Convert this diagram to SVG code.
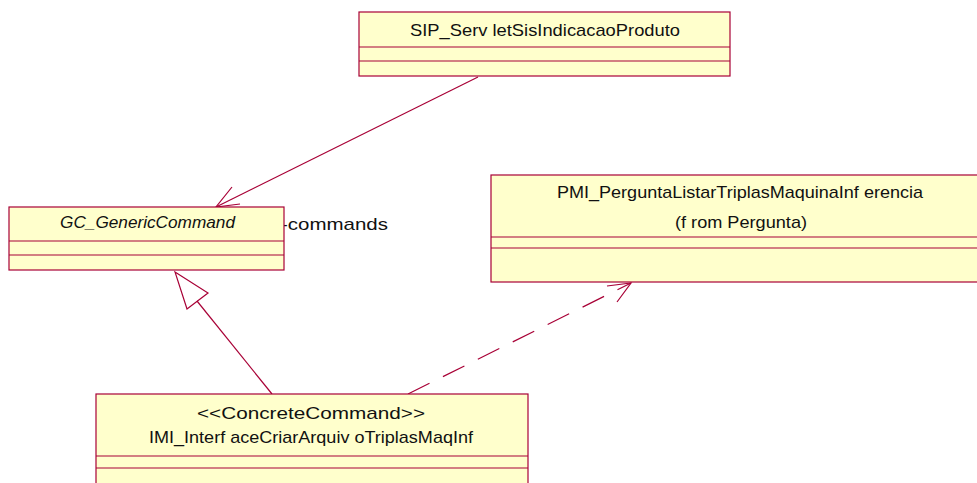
<svg xmlns="http://www.w3.org/2000/svg" width="977" height="483" viewBox="0 0 977 483">
<style>
.box{fill:#FFFFCC;stroke:#A80036;stroke-width:1.2}
.ln{stroke:#A80036;stroke-width:1.2;fill:none}
.t{font-family:"Liberation Sans",Arial,sans-serif;font-size:17px;fill:#111}
</style>
<rect width="977" height="483" fill="#fff"/>
<g id="connectors">
<line class="ln" x1="478" y1="77" x2="216" y2="207"/>
<polyline class="ln" points="232,187 216,207 240,204"/>
<line class="ln" x1="272" y1="394" x2="197" y2="301"/>
<polygon class="ln" fill="#fff" points="175,272 208,293 187,309"/>
<line class="ln" x1="408" y1="394" x2="631" y2="283" stroke-dasharray="24,15"/>
<polyline class="ln" points="607,286 631,283 617,302"/>
<text class="t" x="281" y="230" textLength="107" lengthAdjust="spacingAndGlyphs">-commands</text>
</g>
<g id="SIP">
<rect class="box" x="359" y="12" width="371" height="64"/>
<line class="ln" x1="359" y1="47" x2="730" y2="47"/>
<line class="ln" x1="359" y1="61" x2="730" y2="61"/>
<text class="t" x="410" y="36" textLength="270" lengthAdjust="spacingAndGlyphs">SIP_Serv letSisIndicacaoProduto</text>
</g>
<g id="GC">
<rect class="box" x="9" y="207" width="275" height="63"/>
<line class="ln" x1="9" y1="241" x2="284" y2="241"/>
<line class="ln" x1="9" y1="255" x2="284" y2="255"/>
<text class="t" x="60" y="228" font-style="italic" textLength="175" lengthAdjust="spacingAndGlyphs">GC_GenericCommand</text>
</g>
<g id="PMI">
<rect class="box" x="491" y="175" width="500" height="107"/>
<line class="ln" x1="491" y1="237" x2="977" y2="237"/>
<line class="ln" x1="491" y1="248" x2="977" y2="248"/>
<text class="t" x="557" y="198" textLength="366" lengthAdjust="spacingAndGlyphs">PMI_PerguntaListarTriplasMaquinaInf erencia</text>
<text class="t" x="675" y="228" textLength="132" lengthAdjust="spacingAndGlyphs">(f rom Pergunta)</text>
</g>
<g id="IMI">
<rect class="box" x="96" y="394" width="432" height="100"/>
<line class="ln" x1="96" y1="456" x2="528" y2="456"/>
<line class="ln" x1="96" y1="468" x2="528" y2="468"/>
<text class="t" x="197" y="419" textLength="228" lengthAdjust="spacingAndGlyphs">&lt;&lt;ConcreteCommand&gt;&gt;</text>
<text class="t" x="149" y="443" textLength="324" lengthAdjust="spacingAndGlyphs">IMI_Interf aceCriarArquiv oTriplasMaqInf</text>
</g>
</svg>
